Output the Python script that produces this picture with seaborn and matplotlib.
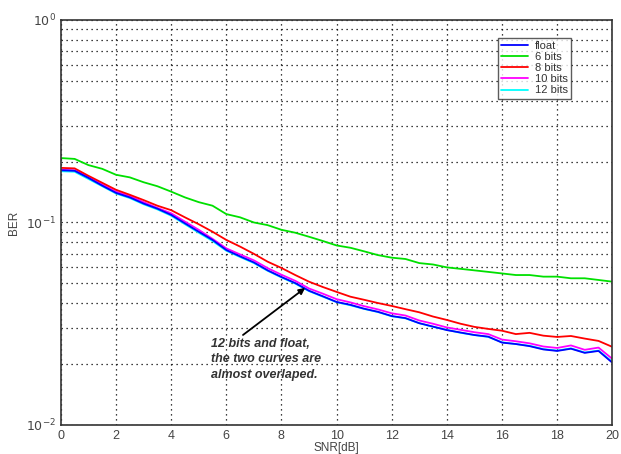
import numpy as np
import pandas as pd
import matplotlib
matplotlib.use("Agg")
import matplotlib.pyplot as plt
import seaborn as sns

snr = [i * 0.5 for i in range(41)]

ber_float = [0.181, 0.180, 0.166, 0.152, 0.140, 0.133, 0.124, 0.117, 0.109, 0.099,
             0.090, 0.082, 0.0731, 0.068, 0.0635, 0.058, 0.0538, 0.0502, 0.046, 0.0432,
             0.0405, 0.0392, 0.0375, 0.0362, 0.0345, 0.0337, 0.0318, 0.0306, 0.0294, 0.0286,
             0.0278, 0.0273, 0.0255, 0.0251, 0.0245, 0.0236, 0.0232, 0.0238, 0.0227, 0.0232, 0.0203]
ber_6 = [0.208, 0.206, 0.192, 0.184, 0.172, 0.167, 0.158, 0.151, 0.142, 0.133,
         0.126, 0.121, 0.110, 0.106, 0.100, 0.097, 0.092, 0.089, 0.085, 0.081,
         0.077, 0.075, 0.072, 0.069, 0.067, 0.066, 0.063, 0.062, 0.060, 0.059,
         0.058, 0.057, 0.056, 0.055, 0.055, 0.054, 0.054, 0.053, 0.053, 0.052, 0.051]
ber_8 = [0.186, 0.185, 0.170, 0.157, 0.145, 0.137, 0.129, 0.121, 0.115, 0.106,
         0.098, 0.090, 0.082, 0.076, 0.070, 0.064, 0.0596, 0.055, 0.051, 0.048,
         0.0454, 0.043, 0.0415, 0.040, 0.0387, 0.0373, 0.036, 0.0343, 0.033, 0.0316,
         0.0305, 0.0298, 0.0292, 0.0281, 0.0285, 0.0276, 0.0272, 0.0275, 0.0267, 0.0260, 0.0243]
ber_10 = [0.182, 0.181, 0.168, 0.154, 0.142, 0.135, 0.126, 0.118, 0.111, 0.101,
          0.092, 0.083, 0.0745, 0.0695, 0.065, 0.0595, 0.0552, 0.0515, 0.0472, 0.0445,
          0.0418, 0.0403, 0.0386, 0.0372, 0.0356, 0.0347, 0.0328, 0.0316, 0.0303, 0.0295,
          0.0287, 0.0281, 0.0264, 0.0259, 0.0253, 0.0244, 0.0240, 0.0247, 0.0235, 0.0241, 0.0212]
ber_12 = [0.179, 0.178, 0.164, 0.151, 0.139, 0.132, 0.123, 0.116, 0.108, 0.098,
          0.089, 0.081, 0.0725, 0.0675, 0.063, 0.0577, 0.0535, 0.0499, 0.0458, 0.0430,
          0.0404, 0.0390, 0.0374, 0.0361, 0.0344, 0.0336, 0.0318, 0.0305, 0.0295, 0.0285,
          0.0278, 0.0272, 0.0256, 0.0251, 0.0246, 0.0237, 0.0233, 0.0239, 0.0228, 0.0233, 0.0205]

labels = ["float", "6 bits", "8 bits", "10 bits", "12 bits"]
colors = ["#0000ff", "#00e000", "#ff0000", "#ff00ff", "#00ffff"]

frames = []
for lab, vals in zip(labels, [ber_float, ber_6, ber_8, ber_10, ber_12]):
    frames.append(pd.DataFrame({"SNR": snr, "BER": vals, "curve": lab}))
df = pd.concat(frames)

sns.set_style("white")
plt.rcParams['font.family'] = ['Liberation Sans', 'DejaVu Sans']

fig = plt.figure(figsize=(6.21, 4.54), dpi=100)
ax = fig.add_axes([0.098, 0.064, 0.888, 0.892])

# draw in reverse so the blue float line ends up on top like the original
order = ["12 bits", "10 bits", "8 bits", "6 bits", "float"]
for lab in order:
    sub = df[df["curve"] == lab]
    sns.lineplot(data=sub, x="SNR", y="BER", color=colors[labels.index(lab)],
                 lw=1.3, ax=ax, label=lab)

ax.set_yscale("log")
ax.set_xlim(0, 20)
ax.set_ylim(1e-2, 1)
ax.set_xticks(range(0, 21, 2))
ax.set_yticks([1e-2, 1e-1, 1])
ax.set_yticklabels([r"$10^{-2}$", r"$10^{-1}$", r"$10^{0}$"])
ax.tick_params(axis="both", which="both", direction="in", labelsize=9, labelcolor="#444444")
ax.tick_params(axis="y", which="minor", length=2)
ax.grid(True, which="major", axis="both", color="black", linestyle=(0, (1, 3)), lw=0.9)
ax.grid(True, which="minor", axis="y", color="black", linestyle=(0, (1, 3)), lw=0.9)
for s in ax.spines.values():
    s.set_color("#333333")
    s.set_linewidth(1.2)

ax.set_xlabel("SNR[dB]", fontsize=8.5, color="#444444", labelpad=0)
ax.set_ylabel("BER", fontsize=8.5, color="#444444", labelpad=4)

handles, labs = ax.get_legend_handles_labels()
hmap = dict(zip(labs, handles))
leg = ax.legend([hmap[l] for l in labels], labels, loc="upper right",
                bbox_to_anchor=(0.935, 0.97), fontsize=8, frameon=True,
                fancybox=False, edgecolor="#333333", handlelength=2.4,
                labelspacing=0.1, borderpad=0.3, handletextpad=0.6)
leg.get_frame().set_linewidth(1.0)
for t in leg.get_texts():
    t.set_color("#333333")

ax.annotate("12 bits and float,\nthe two curves are\nalmost overlaped.",
            xy=(8.86, 0.0475), xytext=(5.45, 0.0268),
            fontsize=9, fontweight="bold", fontstyle="italic", color="#333333",
            va="top", ha="left", linespacing=1.35,
            arrowprops=dict(arrowstyle="-|>", color="black", lw=1.3,
                            shrinkA=0, shrinkB=0, relpos=(0.25, 1.0)))

fig.savefig("out.png", dpi=100)
